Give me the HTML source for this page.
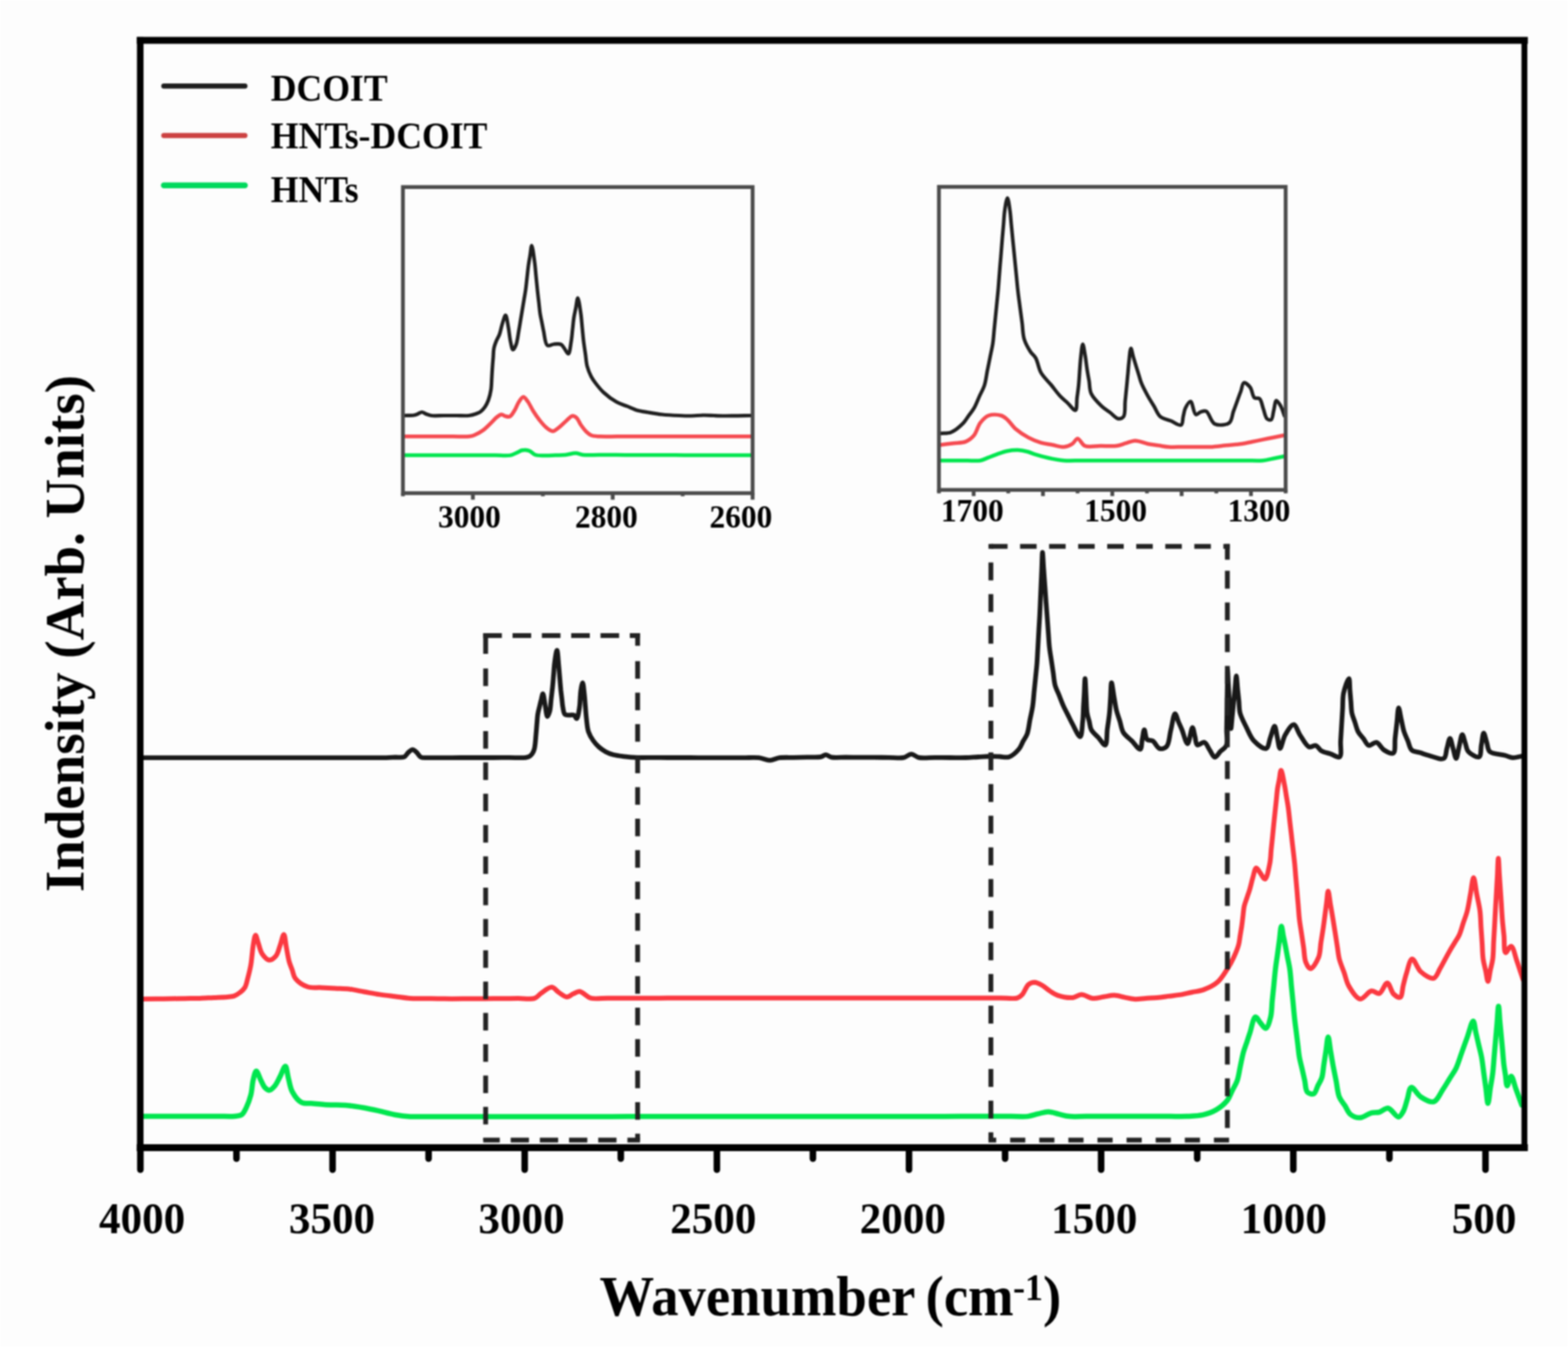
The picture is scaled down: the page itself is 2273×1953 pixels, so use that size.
<!DOCTYPE html>
<html><head><meta charset="utf-8"><title>FTIR spectra</title>
<style>
html,body{margin:0;padding:0;background:#fff;}
body{width:2273px;height:1953px;overflow:hidden;}
svg{display:block;filter:blur(0.8px);}
</style></head>
<body>
<svg width="2273" height="1953" viewBox="0 0 2273 1953">
<rect width="2273" height="1953" fill="#fdfdfd"/>
<g transform="translate(0,0.9)">
<path d="M205.0,1617.7 C212.5,1617.7 220.0,1617.7 227.5,1617.7 C235.0,1617.7 242.5,1617.6 250.0,1617.6 C257.5,1617.6 265.0,1617.6 272.5,1617.6 C280.0,1617.6 287.5,1617.6 295.0,1617.6 C302.5,1617.6 310.0,1617.5 317.5,1617.5 C325.0,1617.5 334.0,1618.1 340.0,1617.5 C344.2,1617.1 347.6,1617.2 350.4,1615.3 C353.4,1613.2 355.0,1609.1 357.0,1605.0 C359.5,1599.8 362.0,1592.9 363.7,1586.4 C365.4,1579.6 365.5,1571.2 367.0,1565.0 C368.2,1560.1 369.7,1552.1 371.5,1552.0 C373.3,1551.9 375.8,1560.9 378.0,1565.0 C380.0,1568.8 381.6,1573.5 384.0,1576.0 C385.9,1577.9 388.2,1579.9 390.4,1579.8 C392.9,1579.7 395.7,1576.7 398.0,1574.0 C401.0,1570.6 403.4,1564.8 406.0,1560.0 C408.6,1555.1 411.7,1544.8 413.7,1545.0 C415.7,1545.2 416.4,1556.1 418.0,1562.0 C419.7,1568.4 420.5,1576.1 423.7,1582.0 C426.9,1587.9 431.7,1594.8 437.0,1597.5 C441.8,1600.0 448.0,1598.5 453.5,1599.0 C459.0,1599.5 464.4,1600.1 470.0,1600.5 C475.8,1600.9 481.9,1601.0 487.9,1601.2 C493.9,1601.5 499.5,1601.4 505.8,1602.0 C512.8,1602.7 520.6,1604.0 528.0,1605.3 C535.4,1606.6 542.6,1608.3 550.0,1610.0 C557.4,1611.7 564.9,1614.0 572.4,1615.3 C579.8,1616.6 587.0,1617.5 594.6,1618.0 C602.5,1618.5 610.9,1618.0 619.0,1618.0 C627.2,1618.0 635.3,1618.0 643.5,1618.0 C651.6,1618.0 659.7,1618.0 667.9,1618.0 C676.0,1618.0 684.2,1618.0 692.3,1618.0 C700.4,1618.0 708.6,1618.0 716.7,1618.0 C724.9,1618.0 733.0,1618.0 741.1,1618.0 C749.3,1618.0 757.4,1618.0 765.6,1618.0 C773.7,1618.0 781.9,1618.0 790.0,1618.0 C798.1,1618.0 806.1,1618.0 814.1,1618.0 C822.2,1618.0 830.2,1618.0 838.3,1618.0 C846.3,1618.0 854.4,1618.0 862.4,1618.0 C870.5,1618.0 878.5,1618.0 886.6,1618.0 C894.6,1618.0 902.6,1618.0 910.7,1617.9 C918.7,1617.9 926.8,1617.9 934.8,1617.9 C942.9,1617.9 950.9,1617.9 959.0,1617.9 C967.0,1617.9 975.1,1617.9 983.1,1617.9 C991.1,1617.9 999.2,1617.9 1007.2,1617.9 C1015.3,1617.9 1023.3,1617.9 1031.4,1617.9 C1039.4,1617.9 1047.5,1617.9 1055.5,1617.9 C1063.6,1617.9 1071.6,1617.9 1079.7,1617.9 C1087.7,1617.9 1095.7,1617.9 1103.8,1617.9 C1111.8,1617.9 1119.9,1617.9 1127.9,1617.9 C1136.0,1617.9 1144.0,1617.8 1152.1,1617.8 C1160.1,1617.8 1168.2,1617.8 1176.2,1617.8 C1184.3,1617.8 1192.3,1617.8 1200.3,1617.8 C1208.4,1617.8 1216.4,1617.8 1224.5,1617.8 C1232.5,1617.8 1240.6,1617.8 1248.6,1617.8 C1256.7,1617.8 1264.7,1617.8 1272.8,1617.8 C1280.8,1617.8 1288.9,1617.8 1296.9,1617.8 C1304.9,1617.8 1313.0,1617.8 1321.0,1617.8 C1329.1,1617.8 1337.1,1617.8 1345.2,1617.8 C1353.2,1617.8 1361.3,1617.8 1369.3,1617.8 C1377.4,1617.7 1385.4,1617.7 1393.4,1617.7 C1401.5,1617.7 1409.5,1617.7 1417.6,1617.7 C1425.6,1617.7 1433.7,1617.7 1441.7,1617.7 C1449.8,1617.7 1457.8,1617.7 1465.9,1617.7 C1473.9,1617.7 1483.0,1618.6 1490.0,1617.7 C1495.6,1617.0 1500.0,1615.1 1505.0,1614.0 C1509.9,1612.9 1514.8,1610.9 1519.8,1611.0 C1524.8,1611.1 1529.9,1613.4 1535.0,1614.5 C1540.0,1615.6 1544.4,1617.1 1550.0,1617.7 C1557.1,1618.4 1566.2,1617.7 1574.3,1617.7 C1582.4,1617.7 1590.5,1617.7 1598.6,1617.7 C1606.7,1617.7 1614.8,1617.7 1622.9,1617.7 C1631.0,1617.7 1639.0,1617.7 1647.1,1617.7 C1655.2,1617.7 1663.3,1617.7 1671.4,1617.7 C1679.5,1617.7 1687.6,1617.7 1695.7,1617.7 C1703.8,1617.7 1711.9,1618.1 1720.0,1617.7 C1728.0,1617.3 1736.6,1617.2 1744.0,1615.5 C1750.9,1613.9 1757.3,1611.6 1763.2,1608.1 C1769.2,1604.5 1775.4,1599.3 1779.4,1594.2 C1782.8,1589.9 1784.0,1584.9 1786.3,1580.3 C1788.7,1575.7 1791.4,1571.6 1793.3,1566.4 C1795.5,1560.3 1796.4,1552.5 1797.9,1545.6 C1799.4,1538.6 1800.8,1530.9 1802.5,1524.7 C1803.9,1519.6 1805.6,1515.4 1807.2,1510.8 C1808.7,1506.2 1810.0,1502.1 1811.8,1496.9 C1814.1,1490.1 1816.7,1474.2 1819.9,1473.6 C1822.0,1473.2 1824.5,1479.3 1827.0,1482.0 C1829.5,1484.8 1832.7,1490.4 1835.0,1490.0 C1837.9,1489.4 1840.4,1479.7 1841.9,1473.7 C1843.7,1466.8 1843.5,1458.3 1844.2,1450.5 C1845.0,1442.8 1845.8,1435.1 1846.6,1427.4 C1847.3,1419.6 1848.0,1411.7 1848.9,1404.2 C1849.7,1397.1 1850.8,1390.4 1851.8,1383.5 C1852.7,1376.6 1853.7,1369.6 1854.6,1362.7 C1855.6,1355.8 1856.4,1342.0 1857.5,1342.0 C1858.4,1342.0 1859.3,1351.0 1860.2,1355.5 C1861.2,1360.0 1862.1,1364.2 1863.0,1369.0 C1864.1,1374.5 1865.2,1380.7 1866.3,1386.6 C1867.5,1392.5 1868.8,1397.9 1869.7,1404.2 C1870.8,1411.6 1871.3,1420.2 1872.0,1428.2 C1872.8,1436.2 1873.6,1444.1 1874.4,1452.1 C1875.1,1460.1 1875.9,1468.6 1876.7,1476.1 C1877.4,1482.7 1878.2,1488.5 1879.0,1494.6 C1879.8,1500.8 1880.5,1507.0 1881.3,1513.2 C1882.1,1519.3 1882.5,1525.7 1883.6,1531.7 C1884.6,1537.5 1886.2,1543.0 1887.5,1548.7 C1888.8,1554.3 1890.0,1560.0 1891.3,1565.6 C1892.6,1571.3 1892.3,1579.6 1895.2,1582.6 C1897.4,1584.8 1902.1,1586.1 1904.5,1585.0 C1907.3,1583.7 1908.4,1577.3 1910.3,1573.4 C1912.2,1569.5 1914.7,1566.3 1916.1,1561.8 C1917.9,1556.2 1918.1,1548.6 1919.2,1542.0 C1920.2,1535.4 1921.2,1528.9 1922.2,1522.3 C1923.3,1515.7 1924.2,1502.5 1925.3,1502.5 C1926.4,1502.5 1927.6,1516.1 1928.8,1522.8 C1930.0,1529.6 1931.0,1536.2 1932.3,1543.2 C1933.7,1550.7 1935.4,1558.7 1936.9,1566.4 C1938.4,1574.1 1938.9,1583.2 1941.5,1589.6 C1943.6,1594.7 1946.9,1598.1 1949.7,1602.3 C1952.4,1606.5 1954.1,1612.1 1957.8,1615.0 C1961.5,1617.9 1966.9,1619.9 1971.7,1619.7 C1976.9,1619.5 1982.9,1614.0 1987.9,1612.7 C1992.0,1611.6 1995.6,1612.6 1999.5,1611.6 C2003.7,1610.5 2008.0,1605.2 2012.2,1605.8 C2017.2,1606.5 2023.4,1618.8 2027.3,1618.5 C2030.2,1618.3 2032.3,1613.8 2034.2,1610.4 C2036.7,1605.9 2038.1,1598.8 2040.0,1593.1 C2041.9,1587.3 2042.6,1576.4 2045.8,1575.7 C2049.1,1574.9 2054.3,1586.1 2059.7,1589.6 C2065.1,1593.1 2072.9,1598.0 2078.2,1596.5 C2083.9,1594.8 2088.0,1583.9 2092.1,1578.0 C2095.6,1572.8 2098.3,1568.0 2101.4,1563.0 C2104.5,1557.9 2107.9,1553.6 2110.7,1547.9 C2113.9,1541.2 2116.2,1532.7 2119.0,1525.1 C2121.7,1517.5 2124.5,1509.9 2127.2,1502.3 C2130.0,1494.7 2133.4,1479.4 2135.5,1479.5 C2137.3,1479.6 2138.2,1491.1 2139.6,1496.9 C2140.9,1502.7 2142.3,1508.5 2143.6,1514.3 C2145.0,1520.1 2146.5,1525.5 2147.7,1531.7 C2149.0,1538.7 2149.8,1546.6 2150.8,1554.1 C2151.8,1561.5 2152.9,1569.0 2153.9,1576.4 C2154.9,1583.9 2155.9,1598.8 2157.0,1598.8 C2158.1,1598.8 2159.3,1584.1 2160.4,1576.8 C2161.6,1569.5 2163.0,1562.3 2163.9,1554.8 C2164.9,1546.9 2165.3,1538.7 2166.0,1530.6 C2166.7,1522.5 2167.4,1514.5 2168.1,1506.4 C2168.8,1498.3 2169.5,1490.3 2170.2,1482.2 C2170.9,1474.1 2171.6,1458.0 2172.3,1458.0 C2173.0,1458.0 2173.6,1472.2 2174.2,1479.3 C2174.9,1486.4 2175.5,1493.5 2176.2,1500.6 C2176.8,1507.7 2177.5,1514.8 2178.2,1521.9 C2178.8,1529.0 2179.3,1536.7 2180.1,1543.2 C2180.8,1548.7 2181.7,1553.3 2182.4,1558.3 C2183.2,1563.3 2183.4,1573.2 2184.8,1573.4 C2186.2,1573.6 2188.6,1559.5 2190.6,1559.5 C2192.9,1559.5 2195.1,1571.5 2197.5,1578.0 C2200.2,1585.3 2203.2,1593.5 2206.0,1601.2" fill="none" stroke="#00e64e" stroke-width="7.5" stroke-linejoin="round" stroke-linecap="round"/>
<path d="M205.0,1447.7 C212.1,1447.6 219.2,1447.5 226.2,1447.4 C233.3,1447.3 240.4,1447.2 247.5,1447.1 C254.6,1447.0 261.7,1446.9 268.8,1446.8 C275.8,1446.7 283.0,1446.7 290.0,1446.5 C296.8,1446.3 303.3,1445.8 310.0,1445.5 C316.7,1445.2 324.6,1445.0 330.0,1444.5 C333.7,1444.2 336.4,1444.2 339.3,1443.2 C342.4,1442.1 345.4,1440.1 348.0,1438.0 C350.6,1436.0 353.1,1434.0 354.9,1431.0 C357.0,1427.5 357.7,1422.8 359.0,1418.0 C360.6,1412.0 362.6,1403.8 363.7,1397.7 C364.6,1392.7 364.8,1388.5 365.4,1383.8 C365.9,1379.2 366.2,1374.7 367.0,1370.0 C367.8,1365.1 369.1,1355.1 370.4,1355.0 C371.5,1354.9 372.7,1361.2 374.0,1365.0 C375.8,1369.9 376.9,1377.5 380.0,1382.0 C382.7,1385.9 386.9,1390.7 390.4,1391.0 C393.6,1391.2 397.5,1388.0 400.0,1385.0 C403.0,1381.4 404.1,1375.1 406.0,1370.0 C407.9,1364.8 410.0,1353.9 411.5,1354.0 C413.0,1354.1 413.8,1365.7 415.0,1372.0 C416.3,1378.8 417.5,1387.2 419.2,1393.3 C420.5,1398.0 422.2,1401.4 423.6,1405.5 C425.1,1409.6 425.3,1414.0 428.1,1417.7 C431.8,1422.4 439.5,1427.7 445.9,1429.9 C452.1,1432.0 459.2,1430.6 465.9,1431.0 C472.5,1431.4 479.2,1431.7 485.8,1432.1 C492.5,1432.5 499.0,1432.4 505.8,1433.2 C513.0,1434.0 520.6,1435.8 528.0,1437.1 C535.4,1438.4 542.8,1439.9 550.2,1441.0 C557.6,1442.1 565.0,1442.9 572.4,1443.8 C579.8,1444.7 587.4,1446.1 594.6,1446.6 C601.5,1447.1 608.0,1446.8 614.7,1446.8 C621.4,1446.9 628.2,1447.0 634.9,1447.1 C641.6,1447.1 648.0,1447.3 655.0,1447.3 C662.6,1447.3 671.0,1447.2 679.0,1447.1 C687.0,1447.1 695.0,1447.0 703.0,1447.0 C711.0,1446.9 719.0,1446.9 727.0,1446.8 C735.0,1446.8 743.0,1446.7 751.0,1446.7 C759.0,1446.6 769.0,1448.6 775.0,1446.5 C779.3,1445.0 781.0,1441.5 784.7,1439.0 C789.1,1436.1 795.4,1430.1 799.9,1430.4 C803.7,1430.6 806.4,1435.7 810.0,1438.0 C813.7,1440.4 817.9,1444.4 821.6,1444.5 C824.9,1444.6 827.9,1441.4 831.0,1440.0 C834.0,1438.7 837.1,1436.3 840.0,1436.5 C842.8,1436.7 845.3,1439.4 848.0,1441.0 C850.8,1442.7 852.6,1445.2 856.3,1446.3 C862.2,1448.0 872.8,1446.3 881.0,1446.3 C889.3,1446.3 897.5,1446.3 905.8,1446.3 C914.0,1446.3 922.3,1446.3 930.5,1446.3 C938.8,1446.3 947.0,1446.3 955.3,1446.3 C963.5,1446.2 971.8,1446.2 980.0,1446.2 C988.3,1446.2 996.5,1446.2 1004.8,1446.2 C1013.0,1446.2 1021.3,1446.2 1029.5,1446.2 C1037.8,1446.2 1046.0,1446.2 1054.3,1446.2 C1062.5,1446.2 1070.8,1446.2 1079.0,1446.2 C1087.3,1446.2 1095.5,1446.2 1103.8,1446.2 C1112.0,1446.2 1120.3,1446.2 1128.5,1446.2 C1136.8,1446.2 1145.0,1446.2 1153.3,1446.2 C1161.5,1446.2 1169.8,1446.1 1178.0,1446.1 C1186.3,1446.1 1194.5,1446.1 1202.8,1446.1 C1211.0,1446.1 1219.3,1446.1 1227.5,1446.1 C1235.8,1446.1 1244.0,1446.1 1252.3,1446.1 C1260.5,1446.1 1268.8,1446.1 1277.0,1446.1 C1285.3,1446.1 1293.5,1446.1 1301.8,1446.1 C1310.0,1446.1 1318.3,1446.1 1326.5,1446.1 C1334.8,1446.1 1343.0,1446.1 1351.3,1446.1 C1359.5,1446.1 1367.8,1446.1 1376.0,1446.0 C1384.3,1446.0 1392.5,1446.0 1400.8,1446.0 C1409.0,1446.0 1417.3,1446.0 1425.5,1446.0 C1433.8,1446.0 1442.0,1446.0 1450.3,1446.0 C1458.5,1446.0 1469.5,1447.8 1475.0,1446.0 C1478.3,1445.0 1479.8,1443.4 1482.0,1441.0 C1485.1,1437.6 1487.4,1429.5 1490.9,1426.6 C1493.5,1424.4 1496.7,1423.3 1499.8,1423.3 C1503.3,1423.4 1507.3,1425.8 1510.9,1427.8 C1514.7,1430.0 1518.2,1433.6 1522.0,1436.0 C1525.6,1438.3 1528.6,1440.7 1533.1,1442.2 C1539.1,1444.2 1549.1,1446.1 1555.3,1445.5 C1560.0,1445.0 1563.1,1441.2 1567.5,1441.1 C1572.6,1441.0 1578.7,1446.1 1584.2,1446.6 C1589.4,1447.1 1594.6,1445.1 1599.8,1444.4 C1604.9,1443.7 1610.2,1442.1 1615.3,1442.2 C1620.2,1442.3 1624.9,1444.0 1629.7,1445.0 C1634.5,1445.9 1639.1,1447.4 1644.1,1447.7 C1649.4,1448.0 1655.2,1447.0 1660.8,1446.6 C1666.3,1446.2 1671.9,1446.0 1677.4,1445.5 C1682.9,1445.0 1688.3,1444.2 1693.7,1443.5 C1699.1,1442.8 1704.5,1442.4 1710.0,1441.5 C1715.8,1440.5 1721.7,1439.0 1727.5,1437.8 C1733.3,1436.5 1739.1,1436.2 1745.0,1434.0 C1751.7,1431.5 1759.6,1427.8 1765.3,1422.8 C1771.1,1417.7 1775.5,1409.7 1779.5,1403.5 C1782.9,1398.2 1785.4,1393.5 1788.0,1388.0 C1790.8,1382.1 1793.9,1374.9 1795.5,1369.0 C1796.8,1364.2 1797.0,1360.0 1797.8,1355.5 C1798.5,1351.0 1799.3,1346.6 1800.0,1342.0 C1800.7,1337.3 1801.2,1332.3 1801.8,1327.5 C1802.4,1322.7 1802.6,1317.6 1803.6,1313.0 C1804.6,1308.6 1806.3,1304.7 1807.7,1300.5 C1809.1,1296.3 1810.5,1292.4 1811.8,1288.0 C1813.3,1283.0 1814.4,1277.2 1816.0,1272.0 C1817.5,1267.0 1819.0,1257.9 1821.1,1257.5 C1822.8,1257.2 1825.0,1262.4 1827.0,1265.0 C1829.2,1267.8 1831.8,1274.1 1833.8,1273.7 C1836.7,1273.2 1839.3,1258.0 1840.8,1250.6 C1842.1,1243.9 1842.1,1237.7 1842.7,1231.3 C1843.4,1224.9 1844.0,1218.4 1844.7,1212.0 C1845.3,1205.6 1846.0,1198.9 1846.6,1192.7 C1847.2,1186.9 1847.8,1181.4 1848.4,1175.8 C1849.0,1170.2 1849.6,1164.5 1850.2,1158.9 C1850.8,1153.3 1851.2,1147.2 1852.0,1142.0 C1852.7,1137.4 1853.7,1133.3 1854.5,1129.0 C1855.3,1124.7 1856.0,1116.0 1857.0,1116.0 C1858.3,1116.0 1860.7,1130.4 1862.0,1137.0 C1863.2,1142.7 1863.8,1147.8 1864.7,1153.2 C1865.6,1158.7 1866.6,1163.8 1867.4,1169.5 C1868.3,1175.9 1869.0,1183.0 1869.7,1189.8 C1870.5,1196.5 1871.3,1203.3 1872.1,1210.0 C1872.8,1216.8 1873.6,1223.6 1874.4,1230.3 C1875.2,1237.1 1876.0,1243.8 1876.7,1250.6 C1877.4,1257.4 1877.8,1264.1 1878.4,1270.9 C1879.0,1277.6 1879.6,1284.4 1880.2,1291.2 C1880.7,1297.9 1881.3,1304.7 1881.9,1311.4 C1882.5,1318.2 1882.8,1324.9 1883.6,1331.7 C1884.4,1338.6 1885.7,1345.6 1886.7,1352.5 C1887.7,1359.5 1888.8,1366.4 1889.8,1373.4 C1890.8,1380.3 1890.7,1388.8 1892.9,1394.2 C1894.5,1398.2 1897.2,1403.5 1899.8,1403.5 C1903.2,1403.5 1908.9,1393.4 1911.4,1387.3 C1914.1,1380.8 1913.7,1372.6 1914.9,1365.2 C1916.1,1357.9 1917.4,1350.1 1918.4,1343.2 C1919.3,1337.1 1919.9,1331.6 1920.7,1325.8 C1921.5,1320.0 1922.2,1314.2 1923.0,1308.4 C1923.8,1302.6 1924.4,1291.0 1925.3,1291.0 C1926.3,1291.0 1927.6,1304.6 1928.8,1311.3 C1930.0,1318.1 1931.2,1325.0 1932.3,1331.7 C1933.4,1338.2 1934.3,1344.6 1935.4,1351.0 C1936.4,1357.4 1937.4,1363.9 1938.4,1370.3 C1939.5,1376.7 1939.9,1383.2 1941.5,1389.6 C1943.2,1396.2 1946.1,1402.7 1948.5,1409.3 C1950.8,1415.9 1951.8,1422.9 1955.4,1429.0 C1959.3,1435.7 1966.0,1446.8 1971.7,1447.5 C1976.9,1448.1 1982.7,1436.8 1987.9,1435.9 C1991.9,1435.2 1996.0,1440.5 1999.5,1439.4 C2003.9,1438.0 2007.5,1424.1 2011.0,1424.3 C2014.5,1424.5 2016.6,1437.0 2020.3,1440.5 C2023.1,1443.1 2027.3,1446.2 2029.6,1445.2 C2032.6,1443.9 2032.7,1433.6 2034.2,1427.8 C2035.7,1422.0 2036.8,1416.4 2038.8,1410.4 C2041.0,1403.7 2043.5,1390.0 2047.0,1389.6 C2050.5,1389.2 2054.4,1403.4 2059.7,1408.1 C2064.8,1412.6 2073.5,1418.6 2078.2,1417.4 C2082.5,1416.3 2084.7,1408.1 2087.5,1403.5 C2090.1,1399.2 2092.1,1395.0 2094.4,1390.8 C2096.8,1386.5 2099.0,1382.1 2101.4,1378.0 C2103.7,1374.0 2106.0,1370.3 2108.4,1366.4 C2110.7,1362.5 2113.3,1359.2 2115.3,1354.8 C2117.6,1349.7 2119.2,1343.2 2121.1,1337.4 C2123.0,1331.7 2125.3,1326.4 2126.9,1320.1 C2128.8,1312.7 2130.0,1303.9 2131.5,1295.8 C2133.0,1287.7 2134.6,1271.5 2136.1,1271.5 C2137.6,1271.5 2139.2,1287.7 2140.8,1295.8 C2142.3,1303.9 2144.4,1312.1 2145.4,1320.1 C2146.4,1327.9 2146.4,1335.5 2146.9,1343.3 C2147.4,1351.0 2148.0,1358.7 2148.5,1366.4 C2149.0,1374.2 2149.0,1382.6 2150.0,1389.6 C2150.8,1395.5 2152.3,1400.4 2153.5,1405.8 C2154.7,1411.2 2155.8,1422.0 2157.0,1422.0 C2158.2,1422.0 2159.3,1411.2 2160.4,1405.8 C2161.6,1400.4 2163.1,1395.6 2163.9,1389.6 C2164.9,1382.3 2164.8,1373.4 2165.2,1365.2 C2165.7,1357.1 2166.2,1349.0 2166.6,1340.9 C2167.0,1332.8 2167.5,1324.7 2167.9,1316.5 C2168.4,1308.4 2168.9,1300.3 2169.3,1292.2 C2169.8,1284.1 2170.2,1276.0 2170.7,1267.8 C2171.1,1259.7 2171.5,1243.5 2172.0,1243.5 C2172.5,1243.5 2173.0,1258.2 2173.4,1265.5 C2173.9,1272.9 2174.4,1280.2 2174.9,1287.6 C2175.4,1295.0 2175.9,1302.3 2176.4,1309.7 C2176.8,1317.0 2177.2,1324.2 2177.8,1331.7 C2178.4,1339.6 2179.4,1347.9 2180.2,1356.0 C2180.9,1364.1 2180.0,1379.5 2182.5,1380.3 C2184.3,1380.9 2188.2,1370.6 2190.6,1371.0 C2193.8,1371.6 2196.4,1385.6 2198.7,1391.9 C2200.5,1397.0 2201.8,1401.2 2203.3,1405.8 C2204.9,1410.4 2206.4,1415.1 2208.0,1419.7" fill="none" stroke="#fb3840" stroke-width="7" stroke-linejoin="round" stroke-linecap="round"/>
<path d="M205.0,1097.7 C212.9,1097.7 220.8,1097.7 228.7,1097.7 C236.6,1097.7 244.4,1097.7 252.3,1097.7 C260.2,1097.7 268.1,1097.7 276.0,1097.7 C283.9,1097.7 291.8,1097.7 299.7,1097.7 C307.6,1097.7 315.4,1097.7 323.3,1097.7 C331.2,1097.7 339.1,1097.7 347.0,1097.7 C354.9,1097.7 362.8,1097.7 370.7,1097.7 C378.6,1097.7 386.4,1097.7 394.3,1097.7 C402.2,1097.7 410.1,1097.7 418.0,1097.7 C425.9,1097.7 433.8,1097.7 441.7,1097.7 C449.6,1097.7 457.4,1097.7 465.3,1097.7 C473.2,1097.7 481.1,1097.7 489.0,1097.7 C496.9,1097.7 504.8,1097.7 512.7,1097.7 C520.6,1097.7 528.4,1097.7 536.3,1097.7 C544.2,1097.7 553.3,1097.9 560.0,1097.7 C565.0,1097.6 568.7,1097.3 573.0,1097.1 C577.3,1096.9 582.7,1098.0 586.0,1096.5 C588.7,1095.2 589.9,1091.8 592.0,1090.0 C593.9,1088.4 596.0,1086.0 598.0,1086.0 C600.0,1086.0 602.1,1088.3 604.0,1090.0 C606.1,1091.9 607.4,1095.5 610.0,1096.8 C612.7,1098.2 616.0,1097.5 620.0,1097.7 C626.2,1098.0 635.8,1097.7 643.7,1097.7 C651.6,1097.7 659.4,1097.6 667.3,1097.6 C675.2,1097.6 683.1,1097.6 691.0,1097.6 C698.9,1097.6 706.8,1097.6 714.7,1097.6 C722.6,1097.6 730.4,1097.5 738.3,1097.5 C746.2,1097.5 757.1,1098.2 762.0,1097.5 C764.3,1097.2 765.5,1096.9 767.0,1096.0 C768.7,1095.1 770.3,1093.7 771.5,1092.0 C772.9,1090.1 773.8,1088.0 774.6,1085.0 C776.0,1079.9 776.4,1070.4 777.0,1064.0 C777.5,1058.7 777.8,1054.3 778.2,1049.5 C778.7,1044.7 778.8,1039.7 779.5,1035.0 C780.2,1030.5 781.6,1025.9 782.5,1022.0 C783.3,1018.7 783.9,1015.9 784.7,1013.0 C785.4,1010.2 786.2,1005.0 787.0,1005.0 C788.0,1005.0 789.0,1014.8 790.0,1020.0 C791.1,1025.7 792.1,1037.8 793.6,1038.0 C794.6,1038.1 796.1,1033.3 797.0,1030.0 C798.2,1025.4 798.3,1018.3 799.0,1012.5 C799.7,1006.7 800.4,1000.8 801.0,995.0 C801.6,989.2 802.0,983.3 802.5,977.5 C803.0,971.7 803.2,965.9 804.0,960.0 C804.8,954.0 806.4,942.0 807.4,942.0 C808.5,942.0 809.3,957.9 810.0,965.0 C810.6,971.2 811.0,976.7 811.5,982.5 C812.0,988.3 812.5,994.7 813.0,1000.0 C813.5,1004.5 814.0,1008.3 814.5,1012.5 C815.0,1016.7 815.2,1021.1 816.0,1025.0 C816.7,1028.6 817.0,1033.3 819.0,1035.0 C820.7,1036.4 823.8,1035.8 826.0,1036.0 C828.1,1036.1 830.3,1035.2 832.0,1036.0 C833.7,1036.8 834.9,1041.2 836.0,1041.0 C837.8,1040.6 839.2,1030.0 840.0,1025.0 C840.7,1020.6 840.7,1016.7 841.0,1012.5 C841.3,1008.3 841.4,1004.0 842.0,1000.0 C842.6,996.2 843.8,989.0 844.6,989.0 C845.5,989.0 846.4,999.5 847.0,1005.0 C847.7,1010.7 848.0,1016.7 848.5,1022.5 C849.0,1028.3 849.3,1034.0 850.0,1040.0 C850.8,1046.5 851.1,1054.2 853.0,1060.0 C854.7,1065.0 857.3,1069.2 860.0,1073.0 C862.4,1076.4 865.0,1079.3 868.0,1082.0 C871.0,1084.7 874.5,1087.1 878.0,1089.0 C881.5,1090.9 884.9,1092.3 889.0,1093.4 C893.8,1094.7 899.4,1095.3 905.0,1096.0 C911.0,1096.7 917.4,1097.2 924.0,1097.5 C931.1,1097.8 938.7,1097.5 946.0,1097.5 C953.3,1097.5 960.7,1097.6 968.0,1097.6 C975.3,1097.6 982.7,1097.6 990.0,1097.6 C997.3,1097.6 1004.7,1097.6 1012.0,1097.7 C1019.3,1097.7 1026.7,1097.7 1034.0,1097.7 C1041.3,1097.7 1048.7,1097.7 1056.0,1097.7 C1063.3,1097.7 1070.7,1097.8 1078.0,1097.8 C1085.3,1097.8 1093.3,1097.0 1100.0,1097.8 C1105.8,1098.5 1110.9,1101.6 1116.0,1101.5 C1120.8,1101.4 1124.9,1098.5 1130.0,1097.8 C1136.0,1097.0 1143.3,1097.5 1150.0,1097.4 C1156.7,1097.2 1163.3,1097.1 1170.0,1096.9 C1176.7,1096.8 1185.1,1097.6 1190.0,1096.5 C1193.0,1095.8 1194.6,1093.5 1197.0,1093.5 C1199.6,1093.5 1201.6,1096.3 1205.0,1097.0 C1210.3,1098.1 1219.0,1097.1 1226.0,1097.1 C1233.0,1097.1 1240.0,1097.2 1247.0,1097.2 C1254.0,1097.2 1261.0,1097.3 1268.0,1097.3 C1275.0,1097.3 1282.0,1097.4 1289.0,1097.4 C1296.0,1097.4 1304.2,1098.7 1310.0,1097.5 C1314.4,1096.6 1317.3,1092.5 1321.0,1092.5 C1324.7,1092.5 1327.6,1096.5 1332.0,1097.5 C1338.1,1098.8 1347.1,1097.5 1354.7,1097.5 C1362.2,1097.5 1369.8,1097.6 1377.3,1097.6 C1384.9,1097.6 1392.9,1097.8 1400.0,1097.6 C1406.3,1097.4 1412.0,1096.9 1418.0,1096.6 C1424.0,1096.3 1430.4,1095.7 1436.0,1095.6 C1440.8,1095.6 1444.9,1095.9 1449.3,1096.1 C1453.8,1096.3 1458.4,1098.0 1462.7,1096.6 C1467.6,1095.0 1473.3,1089.6 1476.8,1085.5 C1479.7,1082.1 1480.9,1078.1 1482.9,1074.3 C1484.9,1070.6 1487.4,1067.6 1489.0,1063.2 C1491.0,1057.6 1491.7,1049.7 1493.0,1043.0 C1494.3,1036.3 1496.0,1029.6 1497.0,1022.8 C1498.0,1016.1 1498.4,1009.3 1499.0,1002.6 C1499.7,995.8 1500.4,989.1 1501.1,982.3 C1501.7,975.6 1502.5,969.1 1503.1,962.1 C1503.7,954.5 1504.0,946.4 1504.5,938.5 C1504.9,930.6 1505.4,922.8 1505.8,914.9 C1506.3,907.0 1506.8,899.1 1507.2,891.3 C1507.6,883.6 1507.9,876.1 1508.2,868.5 C1508.5,860.9 1508.9,853.3 1509.2,845.6 C1509.5,838.0 1509.9,830.4 1510.2,822.8 C1510.5,815.2 1510.8,800.0 1511.2,800.0 C1511.7,800.0 1512.3,815.8 1512.9,823.7 C1513.5,831.6 1514.0,839.5 1514.6,847.4 C1515.2,855.3 1515.7,863.3 1516.3,871.1 C1516.9,878.6 1517.4,885.9 1518.0,893.3 C1518.5,900.7 1519.1,908.2 1519.6,915.6 C1520.2,923.0 1520.5,930.8 1521.3,937.8 C1522.0,944.2 1523.1,949.9 1524.0,956.0 C1524.9,962.1 1525.8,968.1 1526.7,974.2 C1527.6,980.3 1527.9,986.7 1529.4,992.4 C1530.9,997.8 1533.5,1002.5 1535.5,1007.6 C1537.5,1012.7 1539.5,1018.1 1541.6,1022.8 C1543.5,1027.1 1545.6,1030.9 1547.7,1034.9 C1549.7,1038.9 1551.2,1042.5 1553.7,1047.0 C1557.0,1052.9 1563.2,1067.8 1565.8,1067.3 C1568.4,1066.8 1568.7,1052.3 1569.5,1045.0 C1570.3,1038.0 1570.3,1031.2 1570.6,1024.3 C1571.0,1017.4 1571.4,1010.6 1571.8,1003.7 C1572.1,996.8 1572.5,983.0 1572.9,983.0 C1573.4,983.0 1573.9,999.6 1574.4,1008.0 C1574.9,1016.3 1574.9,1026.1 1575.9,1032.9 C1576.6,1037.7 1577.9,1041.0 1579.0,1045.1 C1580.0,1049.1 1580.0,1053.5 1582.0,1057.2 C1584.2,1061.3 1588.7,1064.6 1592.1,1068.3 C1595.5,1072.0 1600.0,1080.1 1602.2,1079.4 C1605.0,1078.5 1604.2,1063.9 1605.2,1056.2 C1606.3,1048.4 1607.5,1040.6 1608.3,1032.9 C1609.0,1025.5 1609.3,1018.3 1609.8,1011.0 C1610.3,1003.6 1610.4,989.0 1611.3,989.0 C1612.1,989.0 1613.7,1002.3 1614.8,1008.9 C1616.0,1015.5 1616.9,1022.6 1618.4,1028.8 C1619.8,1034.5 1621.8,1039.6 1623.5,1045.0 C1625.1,1050.4 1625.6,1056.5 1628.5,1061.2 C1631.4,1065.9 1636.6,1069.3 1640.7,1073.3 C1644.7,1077.4 1650.3,1086.2 1652.8,1085.5 C1655.1,1084.8 1654.8,1076.1 1655.8,1071.3 C1656.8,1066.6 1657.6,1057.2 1658.8,1057.2 C1660.0,1057.2 1660.3,1068.8 1662.9,1071.3 C1664.9,1073.2 1668.4,1071.7 1671.0,1073.3 C1674.5,1075.4 1677.4,1083.5 1681.1,1084.5 C1684.2,1085.4 1688.6,1084.1 1691.2,1081.4 C1695.1,1077.3 1695.2,1065.6 1697.2,1057.7 C1699.3,1049.8 1701.1,1034.2 1703.3,1034.0 C1704.9,1033.9 1706.7,1041.7 1708.3,1045.6 C1710.0,1049.5 1711.6,1052.8 1713.4,1057.2 C1715.8,1063.0 1719.0,1077.5 1721.5,1077.4 C1724.1,1077.3 1726.7,1054.0 1728.6,1054.0 C1730.0,1054.0 1731.0,1062.5 1732.2,1066.7 C1733.3,1070.9 1733.2,1078.2 1735.7,1079.4 C1738.0,1080.5 1742.9,1074.5 1745.8,1075.4 C1749.0,1076.3 1750.9,1082.6 1753.4,1086.2 C1755.9,1089.8 1758.3,1096.8 1761.0,1097.0 C1763.5,1097.2 1766.2,1091.6 1768.9,1088.8 C1771.8,1085.9 1776.1,1084.0 1777.8,1079.9 C1780.1,1074.5 1778.0,1065.2 1778.1,1057.9 C1778.3,1050.6 1778.4,1043.3 1778.5,1035.9 C1778.6,1028.6 1778.7,1021.3 1778.8,1014.0 C1778.9,1006.6 1779.0,999.3 1779.2,992.0 C1779.3,984.7 1779.2,970.0 1779.5,970.0 C1779.8,970.0 1780.3,984.2 1780.7,991.4 C1781.1,998.5 1781.5,1005.6 1782.0,1012.8 C1782.4,1019.9 1782.8,1027.0 1783.2,1034.1 C1783.6,1041.2 1783.8,1055.5 1784.4,1055.5 C1784.9,1055.5 1785.7,1042.8 1786.4,1036.4 C1787.0,1030.0 1787.7,1023.6 1788.3,1017.2 C1789.0,1010.9 1789.6,1004.5 1790.2,998.1 C1790.9,991.8 1791.6,979.0 1792.2,979.0 C1792.8,979.0 1793.4,991.1 1794.0,997.1 C1794.6,1003.1 1795.3,1009.2 1795.9,1015.2 C1796.5,1021.2 1796.1,1027.2 1797.7,1033.3 C1799.5,1039.9 1803.3,1046.7 1806.6,1053.3 C1810.0,1060.0 1812.7,1068.0 1817.7,1073.2 C1822.5,1078.2 1831.5,1085.7 1835.5,1084.3 C1839.1,1083.1 1839.6,1073.5 1841.6,1068.2 C1843.6,1062.8 1846.0,1051.9 1847.7,1052.0 C1849.3,1052.1 1850.3,1062.8 1851.6,1068.2 C1852.9,1073.5 1853.7,1084.2 1855.5,1084.3 C1857.5,1084.4 1859.7,1070.3 1863.2,1064.4 C1866.5,1058.8 1871.9,1049.5 1875.5,1049.8 C1878.9,1050.1 1880.9,1059.4 1884.3,1064.4 C1888.2,1070.1 1893.0,1080.3 1897.7,1082.1 C1900.9,1083.3 1904.7,1079.1 1907.6,1080.0 C1910.6,1080.9 1912.2,1085.7 1915.4,1087.7 C1919.0,1089.9 1924.3,1090.6 1928.7,1092.1 C1933.1,1093.6 1939.3,1098.3 1942.0,1096.5 C1945.4,1094.2 1942.9,1081.1 1943.4,1073.5 C1943.9,1065.8 1944.3,1058.1 1944.8,1050.5 C1945.3,1042.8 1945.7,1035.1 1946.2,1027.4 C1946.7,1019.8 1946.1,1011.8 1947.6,1004.4 C1949.1,997.0 1953.9,982.8 1955.4,983.0 C1956.7,983.2 1956.4,994.2 1956.9,999.8 C1957.4,1005.4 1957.8,1010.9 1958.3,1016.5 C1958.8,1022.1 1958.7,1028.1 1959.8,1033.3 C1960.8,1038.1 1962.8,1042.2 1964.2,1046.6 C1965.7,1051.0 1966.6,1055.9 1968.7,1059.9 C1970.7,1063.7 1973.9,1066.6 1976.5,1069.9 C1979.0,1073.2 1981.0,1079.0 1984.2,1079.9 C1987.3,1080.8 1991.8,1074.8 1995.3,1075.5 C1999.3,1076.3 2002.2,1084.0 2006.4,1086.6 C2010.4,1089.1 2017.0,1092.8 2019.8,1091.0 C2023.3,1088.8 2021.5,1076.4 2022.4,1069.2 C2023.2,1061.9 2024.1,1054.6 2024.9,1047.3 C2025.8,1040.1 2026.3,1025.6 2027.5,1025.5 C2028.5,1025.4 2030.1,1037.0 2031.4,1042.7 C2032.7,1048.4 2033.6,1054.6 2035.3,1059.9 C2036.8,1064.7 2039.0,1068.8 2040.8,1073.2 C2042.7,1077.7 2043.3,1083.7 2046.4,1086.6 C2049.3,1089.3 2054.5,1089.2 2058.6,1090.4 C2062.7,1091.7 2066.1,1093.1 2070.8,1094.3 C2077.1,1095.9 2088.7,1101.4 2093.0,1098.8 C2096.5,1096.7 2096.0,1089.1 2097.4,1084.3 C2098.9,1079.5 2100.4,1069.8 2101.9,1069.8 C2103.4,1069.8 2104.9,1079.5 2106.4,1084.3 C2107.8,1089.1 2109.4,1098.8 2110.8,1098.8 C2112.3,1098.8 2113.8,1087.3 2115.2,1081.5 C2116.7,1075.7 2118.1,1064.3 2119.7,1064.2 C2121.1,1064.1 2122.6,1072.4 2124.1,1076.5 C2125.6,1080.6 2125.6,1085.6 2128.5,1088.8 C2131.8,1092.5 2140.9,1098.1 2144.1,1096.5 C2147.3,1094.9 2146.3,1085.0 2147.4,1079.2 C2148.6,1073.5 2149.4,1062.1 2150.8,1062.0 C2152.0,1061.9 2153.7,1070.9 2155.2,1075.4 C2156.7,1079.9 2156.2,1085.7 2159.6,1088.8 C2163.9,1092.8 2175.7,1092.6 2181.8,1094.3 C2186.2,1095.5 2189.1,1097.5 2193.0,1097.7 C2197.1,1097.9 2201.7,1096.2 2206.0,1095.4" fill="none" stroke="#181818" stroke-width="6.8" stroke-linejoin="round" stroke-linecap="round"/>
</g>
<g stroke="#222222" stroke-width="7" fill="none"><line x1="700.5" y1="921.5" x2="727.5" y2="921.5"/><line x1="743.0" y1="921.5" x2="770.0" y2="921.5"/><line x1="785.5" y1="921.5" x2="812.5" y2="921.5"/><line x1="828.0" y1="921.5" x2="855.0" y2="921.5"/><line x1="870.5" y1="921.5" x2="897.5" y2="921.5"/><line x1="913.0" y1="921.5" x2="927.8" y2="921.5"/><line x1="704" y1="918.0" x2="704" y2="948"/><line x1="704" y1="969.2" x2="704" y2="994.7"/><line x1="704" y1="1014.6" x2="704" y2="1040.1"/><line x1="704" y1="1060.0" x2="704" y2="1085.5"/><line x1="704" y1="1105.4" x2="704" y2="1130.9"/><line x1="704" y1="1150.8" x2="704" y2="1176.3"/><line x1="704" y1="1196.2" x2="704" y2="1221.7"/><line x1="704" y1="1241.6" x2="704" y2="1267.1"/><line x1="704" y1="1287.0" x2="704" y2="1312.5"/><line x1="704" y1="1332.4" x2="704" y2="1357.9"/><line x1="704" y1="1377.8" x2="704" y2="1403.3"/><line x1="704" y1="1423.2" x2="704" y2="1448.7"/><line x1="704" y1="1468.6" x2="704" y2="1494.1"/><line x1="704" y1="1514.0" x2="704" y2="1539.5"/><line x1="704" y1="1559.4" x2="704" y2="1584.9"/><line x1="704" y1="1604.8" x2="704" y2="1630.3"/><line x1="704" y1="1650.2" x2="704" y2="1653.0"/><line x1="924.3" y1="918.0" x2="924.3" y2="936.3"/><line x1="924.3" y1="958.6" x2="924.3" y2="984.1"/><line x1="924.3" y1="1004.3" x2="924.3" y2="1029.8"/><line x1="924.3" y1="1049.9" x2="924.3" y2="1075.4"/><line x1="924.3" y1="1095.6" x2="924.3" y2="1121.1"/><line x1="924.3" y1="1141.3" x2="924.3" y2="1166.8"/><line x1="924.3" y1="1187.0" x2="924.3" y2="1212.5"/><line x1="924.3" y1="1232.6" x2="924.3" y2="1258.1"/><line x1="924.3" y1="1278.3" x2="924.3" y2="1303.8"/><line x1="924.3" y1="1324.0" x2="924.3" y2="1349.5"/><line x1="924.3" y1="1369.6" x2="924.3" y2="1395.1"/><line x1="924.3" y1="1415.3" x2="924.3" y2="1440.8"/><line x1="924.3" y1="1461.0" x2="924.3" y2="1486.5"/><line x1="924.3" y1="1506.6" x2="924.3" y2="1532.1"/><line x1="924.3" y1="1552.3" x2="924.3" y2="1577.8"/><line x1="924.3" y1="1598.0" x2="924.3" y2="1623.5"/><line x1="924.3" y1="1643.7" x2="924.3" y2="1653.0"/><line x1="700.5" y1="1653" x2="724.5" y2="1653"/><line x1="740.3" y1="1653" x2="766.8" y2="1653"/><line x1="782.6" y1="1653" x2="809.1" y2="1653"/><line x1="824.9" y1="1653" x2="851.4" y2="1653"/><line x1="867.2" y1="1653" x2="893.7" y2="1653"/><line x1="909.5" y1="1653" x2="927.8" y2="1653"/><line x1="1436.6" y1="792.2" x2="1460.6" y2="792.2"/><line x1="1478.7" y1="792.2" x2="1502.7" y2="792.2"/><line x1="1520.8" y1="792.2" x2="1544.8" y2="792.2"/><line x1="1562.9" y1="792.2" x2="1586.9" y2="792.2"/><line x1="1605.0" y1="792.2" x2="1629.0" y2="792.2"/><line x1="1647.1" y1="792.2" x2="1671.1" y2="792.2"/><line x1="1689.2" y1="792.2" x2="1713.2" y2="792.2"/><line x1="1731.3" y1="792.2" x2="1755.3" y2="792.2"/><line x1="1773.4" y1="792.2" x2="1782.7" y2="792.2"/><line x1="1432.9" y1="792.2" x2="1440" y2="792.2"/><line x1="1436.4" y1="815.5" x2="1436.4" y2="841.5"/><line x1="1436.4" y1="861.4" x2="1436.4" y2="887.4"/><line x1="1436.4" y1="907.3" x2="1436.4" y2="933.3"/><line x1="1436.4" y1="953.2" x2="1436.4" y2="979.2"/><line x1="1436.4" y1="999.1" x2="1436.4" y2="1025.1"/><line x1="1436.4" y1="1045.0" x2="1436.4" y2="1071.0"/><line x1="1436.4" y1="1090.9" x2="1436.4" y2="1116.9"/><line x1="1436.4" y1="1136.8" x2="1436.4" y2="1162.8"/><line x1="1436.4" y1="1182.7" x2="1436.4" y2="1208.7"/><line x1="1436.4" y1="1228.6" x2="1436.4" y2="1254.6"/><line x1="1436.4" y1="1274.5" x2="1436.4" y2="1300.5"/><line x1="1436.4" y1="1320.4" x2="1436.4" y2="1346.4"/><line x1="1436.4" y1="1366.3" x2="1436.4" y2="1392.3"/><line x1="1436.4" y1="1412.2" x2="1436.4" y2="1438.2"/><line x1="1436.4" y1="1458.1" x2="1436.4" y2="1484.1"/><line x1="1436.4" y1="1504.0" x2="1436.4" y2="1530.0"/><line x1="1436.4" y1="1549.9" x2="1436.4" y2="1575.9"/><line x1="1436.4" y1="1595.8" x2="1436.4" y2="1621.8"/><line x1="1436.4" y1="1641.7" x2="1436.4" y2="1653.0"/><line x1="1779.2" y1="788.7" x2="1779.2" y2="811.5"/><line x1="1779.2" y1="827.5" x2="1779.2" y2="853.5"/><line x1="1779.2" y1="873.5" x2="1779.2" y2="899.5"/><line x1="1779.2" y1="919.5" x2="1779.2" y2="945.5"/><line x1="1779.2" y1="965.5" x2="1779.2" y2="991.5"/><line x1="1779.2" y1="1011.5" x2="1779.2" y2="1037.5"/><line x1="1779.2" y1="1057.5" x2="1779.2" y2="1083.5"/><line x1="1779.2" y1="1103.5" x2="1779.2" y2="1129.5"/><line x1="1779.2" y1="1149.5" x2="1779.2" y2="1175.5"/><line x1="1779.2" y1="1195.5" x2="1779.2" y2="1221.5"/><line x1="1779.2" y1="1241.5" x2="1779.2" y2="1267.5"/><line x1="1779.2" y1="1287.5" x2="1779.2" y2="1313.5"/><line x1="1779.2" y1="1333.5" x2="1779.2" y2="1359.5"/><line x1="1779.2" y1="1379.5" x2="1779.2" y2="1405.5"/><line x1="1779.2" y1="1425.5" x2="1779.2" y2="1451.5"/><line x1="1779.2" y1="1471.5" x2="1779.2" y2="1497.5"/><line x1="1779.2" y1="1517.5" x2="1779.2" y2="1543.5"/><line x1="1779.2" y1="1563.5" x2="1779.2" y2="1589.5"/><line x1="1779.2" y1="1609.5" x2="1779.2" y2="1635.5"/><line x1="1432.9" y1="1653" x2="1444.1" y2="1653"/><line x1="1464.3" y1="1653" x2="1486.3" y2="1653"/><line x1="1506.5" y1="1653" x2="1528.5" y2="1653"/><line x1="1548.7" y1="1653" x2="1570.7" y2="1653"/><line x1="1590.9" y1="1653" x2="1612.9" y2="1653"/><line x1="1633.1" y1="1653" x2="1655.1" y2="1653"/><line x1="1675.3" y1="1653" x2="1697.3" y2="1653"/><line x1="1717.5" y1="1653" x2="1739.5" y2="1653"/><line x1="1759.7" y1="1653" x2="1781.7" y2="1653"/></g>
<g stroke="#000" fill="none" stroke-linecap="square"><line x1="203.3" y1="58.6" x2="2209.8" y2="58.6" stroke-width="10"/><line x1="203.3" y1="58.6" x2="203.3" y2="1664" stroke-width="9.5"/><line x1="2209.8" y1="58.6" x2="2209.8" y2="1664" stroke-width="8.5"/><line x1="203.3" y1="1664" x2="2209.8" y2="1664" stroke-width="10"/></g>
<line x1="203.5" y1="1664" x2="203.5" y2="1696" stroke="#000" stroke-width="9.5" stroke-linecap="round"/>
<line x1="342.8" y1="1664" x2="342.8" y2="1680" stroke="#000" stroke-width="9.5" stroke-linecap="round"/>
<line x1="482.1" y1="1664" x2="482.1" y2="1696" stroke="#000" stroke-width="9.5" stroke-linecap="round"/>
<line x1="621.3" y1="1664" x2="621.3" y2="1680" stroke="#000" stroke-width="9.5" stroke-linecap="round"/>
<line x1="760.6" y1="1664" x2="760.6" y2="1696" stroke="#000" stroke-width="9.5" stroke-linecap="round"/>
<line x1="899.9" y1="1664" x2="899.9" y2="1680" stroke="#000" stroke-width="9.5" stroke-linecap="round"/>
<line x1="1039.2" y1="1664" x2="1039.2" y2="1696" stroke="#000" stroke-width="9.5" stroke-linecap="round"/>
<line x1="1178.4" y1="1664" x2="1178.4" y2="1680" stroke="#000" stroke-width="9.5" stroke-linecap="round"/>
<line x1="1317.7" y1="1664" x2="1317.7" y2="1696" stroke="#000" stroke-width="9.5" stroke-linecap="round"/>
<line x1="1457.0" y1="1664" x2="1457.0" y2="1680" stroke="#000" stroke-width="9.5" stroke-linecap="round"/>
<line x1="1596.2" y1="1664" x2="1596.2" y2="1696" stroke="#000" stroke-width="9.5" stroke-linecap="round"/>
<line x1="1735.5" y1="1664" x2="1735.5" y2="1680" stroke="#000" stroke-width="9.5" stroke-linecap="round"/>
<line x1="1874.8" y1="1664" x2="1874.8" y2="1696" stroke="#000" stroke-width="9.5" stroke-linecap="round"/>
<line x1="2014.1" y1="1664" x2="2014.1" y2="1680" stroke="#000" stroke-width="9.5" stroke-linecap="round"/>
<line x1="2153.4" y1="1664" x2="2153.4" y2="1696" stroke="#000" stroke-width="9.5" stroke-linecap="round"/>
<text x="206" y="1788" font-size="62.5" font-family="'Liberation Serif', 'Times New Roman', serif" font-weight="bold" text-anchor="middle" fill="#000">4000</text>
<text x="481.2" y="1788" font-size="62.5" font-family="'Liberation Serif', 'Times New Roman', serif" font-weight="bold" text-anchor="middle" fill="#000">3500</text>
<text x="755.9" y="1788" font-size="62.5" font-family="'Liberation Serif', 'Times New Roman', serif" font-weight="bold" text-anchor="middle" fill="#000">3000</text>
<text x="1033.9" y="1788" font-size="62.5" font-family="'Liberation Serif', 'Times New Roman', serif" font-weight="bold" text-anchor="middle" fill="#000">2500</text>
<text x="1308.8" y="1788" font-size="62.5" font-family="'Liberation Serif', 'Times New Roman', serif" font-weight="bold" text-anchor="middle" fill="#000">2000</text>
<text x="1586.2" y="1788" font-size="62.5" font-family="'Liberation Serif', 'Times New Roman', serif" font-weight="bold" text-anchor="middle" fill="#000">1500</text>
<text x="1861" y="1788" font-size="62.5" font-family="'Liberation Serif', 'Times New Roman', serif" font-weight="bold" text-anchor="middle" fill="#000">1000</text>
<text x="2151.3" y="1788" font-size="62.5" font-family="'Liberation Serif', 'Times New Roman', serif" font-weight="bold" text-anchor="middle" fill="#000">500</text>
<g transform="translate(869,1907) scale(0.967,1)"><text x="0" y="0" font-size="82" font-family="'Liberation Serif', 'Times New Roman', serif" font-weight="bold" fill="#000">Wavenumber <tspan dx="-3.8">(cm</tspan><tspan font-size="54" dy="-22" dx="-1">-1</tspan><tspan dy="22">)</tspan></text></g>
<g transform="translate(120.5,1293.5) rotate(-90) scale(0.983,1)"><text x="0" y="0" font-size="81" font-family="'Liberation Serif', 'Times New Roman', serif" font-weight="bold" fill="#000">Indensity (Arb. Units)</text></g>
<line x1="237.5" y1="124.8" x2="355" y2="124.8" stroke="#1e1e1e" stroke-width="7.5" stroke-linecap="round"/>
<line x1="237.5" y1="196.4" x2="355" y2="196.4" stroke="#cc4242" stroke-width="7.5" stroke-linecap="round"/>
<line x1="237.5" y1="268.8" x2="355" y2="268.8" stroke="#00d95c" stroke-width="8.5" stroke-linecap="round"/>
<g transform="translate(392.5,145.5) scale(0.94,1)"><text x="0" y="0" font-size="55" font-family="'Liberation Serif', 'Times New Roman', serif" font-weight="bold" fill="#000">DCOIT</text></g>
<g transform="translate(392.5,214.5) scale(0.94,1)"><text x="0" y="0" font-size="55" font-family="'Liberation Serif', 'Times New Roman', serif" font-weight="bold" fill="#000">HNTs-DCOIT</text></g>
<g transform="translate(392.5,292.5) scale(0.94,1)"><text x="0" y="0" font-size="55" font-family="'Liberation Serif', 'Times New Roman', serif" font-weight="bold" fill="#000">HNTs</text></g>
<path d="M586.0,660.1 C593.3,660.1 600.7,660.1 608.0,660.1 C615.3,660.1 622.7,660.1 630.0,660.1 C637.3,660.1 644.7,660.1 652.0,660.1 C659.3,660.1 666.7,660.1 674.0,660.1 C681.3,660.1 688.7,660.1 696.0,660.1 C703.3,660.1 710.7,660.1 718.0,660.1 C725.3,660.1 734.2,661.2 740.0,660.1 C744.1,659.3 747.1,657.3 750.0,656.0 C752.3,655.0 754.0,653.6 756.0,653.0 C757.9,652.5 759.8,652.4 761.7,652.5 C763.8,652.7 765.9,653.1 768.0,654.0 C770.6,655.2 772.8,658.4 776.0,659.5 C779.9,660.9 785.3,660.4 790.0,660.5 C794.9,660.6 800.0,660.2 805.0,660.0 C810.0,659.8 815.1,660.0 820.0,659.5 C824.9,659.0 830.1,656.9 834.5,657.0 C838.3,657.1 840.7,659.0 845.0,659.5 C851.4,660.3 861.3,659.5 869.4,659.6 C877.5,659.6 885.7,659.6 893.8,659.6 C901.9,659.6 910.1,659.7 918.2,659.7 C926.3,659.7 934.5,659.7 942.6,659.7 C950.7,659.8 958.9,659.8 967.0,659.8 C975.1,659.8 983.3,659.8 991.4,659.9 C999.5,659.9 1007.7,659.9 1015.8,659.9 C1023.9,659.9 1032.1,660.0 1040.2,660.0 C1048.3,660.0 1056.5,660.0 1064.6,660.0 C1072.7,660.1 1080.9,660.1 1089.0,660.1" fill="none" stroke="#00e64e" stroke-width="5.5" stroke-linejoin="round" stroke-linecap="round"/>
<path d="M586.0,632.8 C593.8,632.8 601.7,632.8 609.5,632.8 C617.3,632.8 625.2,632.8 633.0,632.8 C640.8,632.8 648.7,632.8 656.5,632.8 C664.3,632.8 674.4,633.5 680.0,632.8 C683.2,632.4 684.7,632.1 687.4,631.0 C691.1,629.5 696.0,626.9 700.0,624.0 C704.2,620.9 708.4,616.4 712.0,613.0 C715.0,610.2 717.3,607.1 720.0,605.0 C722.2,603.3 724.5,601.2 726.8,601.0 C728.9,600.8 730.9,603.0 733.0,603.5 C735.0,604.0 737.1,604.8 739.0,604.0 C741.6,602.9 743.9,598.3 746.0,595.0 C748.3,591.4 749.7,586.4 752.0,583.0 C754.0,580.1 756.5,575.5 758.7,575.5 C760.8,575.5 762.9,579.3 765.0,582.0 C767.7,585.7 770.2,591.5 773.0,596.0 C775.8,600.5 778.8,604.9 782.0,609.0 C785.1,612.9 788.5,617.2 792.0,620.0 C794.9,622.4 798.2,625.2 801.2,625.2 C804.2,625.2 807.1,622.1 810.0,620.0 C813.4,617.5 816.6,613.9 820.0,611.0 C823.3,608.2 827.0,603.3 830.0,603.0 C832.2,602.8 834.2,604.3 836.0,606.0 C838.4,608.2 839.7,612.7 842.0,616.0 C844.4,619.4 847.2,623.3 850.0,626.0 C852.3,628.2 854.4,630.1 857.3,631.3 C860.8,632.7 865.1,632.5 870.0,632.8 C876.8,633.2 886.2,632.8 894.3,632.8 C902.4,632.8 910.6,632.8 918.7,632.8 C926.8,632.8 934.9,632.8 943.0,632.8 C951.1,632.8 959.2,632.8 967.3,632.8 C975.4,632.8 983.6,632.8 991.7,632.8 C999.8,632.8 1007.9,632.8 1016.0,632.8 C1024.1,632.8 1032.2,632.8 1040.3,632.8 C1048.4,632.8 1056.6,632.8 1064.7,632.8 C1072.8,632.8 1080.9,632.8 1089.0,632.8" fill="none" stroke="#f54a50" stroke-width="5.5" stroke-linejoin="round" stroke-linecap="round"/>
<path d="M586.0,602.5 C590.7,602.3 596.3,602.7 600.0,602.0 C602.5,601.6 604.1,600.8 606.0,600.0 C607.9,599.3 609.8,597.5 611.6,597.5 C613.4,597.5 615.0,599.2 617.0,600.0 C619.4,600.9 621.7,602.0 625.0,602.5 C629.8,603.2 637.2,602.5 643.3,602.5 C649.4,602.5 655.6,602.5 661.7,602.5 C667.8,602.5 674.8,603.1 680.0,602.5 C683.9,602.0 687.1,601.0 690.0,600.0 C692.4,599.1 694.5,598.5 696.5,597.0 C698.8,595.3 701.1,592.7 703.0,590.0 C705.0,587.1 706.6,583.8 708.0,580.0 C709.6,575.6 710.9,570.2 711.7,565.0 C712.6,559.4 712.5,553.3 712.9,547.5 C713.2,541.7 713.6,535.3 714.0,530.0 C714.3,525.5 714.7,521.7 715.0,517.5 C715.3,513.3 715.2,508.9 716.0,505.0 C716.7,501.4 718.0,498.1 719.3,494.8 C720.6,491.5 722.6,488.7 724.0,485.0 C725.6,480.6 726.5,474.8 728.0,470.0 C729.5,465.5 731.5,456.9 732.9,457.0 C734.5,457.1 735.8,468.8 737.0,475.0 C738.2,481.5 738.7,489.2 740.0,495.0 C741.0,499.5 742.0,506.8 743.5,507.0 C744.8,507.2 746.8,503.1 748.0,500.0 C750.0,495.2 750.9,486.2 752.0,480.0 C753.0,474.6 753.7,470.0 754.5,465.0 C755.3,460.0 756.2,455.0 757.0,450.0 C757.8,445.0 758.7,440.0 759.5,435.0 C760.3,430.0 761.3,425.2 762.0,420.0 C762.8,414.4 763.3,408.3 764.0,402.5 C764.7,396.7 765.2,390.6 766.0,385.0 C766.7,379.9 767.6,375.3 768.4,370.5 C769.2,365.7 769.9,356.0 770.8,356.0 C772.0,356.0 773.9,372.3 775.0,380.0 C776.0,387.0 776.3,393.3 777.0,400.0 C777.7,406.7 778.3,413.6 779.0,420.0 C779.6,426.0 780.3,431.7 781.0,437.5 C781.7,443.3 782.2,449.7 783.0,455.0 C783.7,459.5 784.7,463.3 785.5,467.5 C786.3,471.7 786.9,475.3 788.0,480.0 C789.4,486.1 790.0,498.7 793.6,500.9 C796.0,502.4 799.8,499.3 803.0,499.0 C806.3,498.7 810.7,498.1 813.3,499.4 C815.5,500.5 816.4,502.9 818.0,505.0 C819.9,507.4 822.3,513.3 823.9,513.0 C826.0,512.6 827.0,501.0 828.0,495.0 C829.0,489.2 829.3,483.3 830.0,477.5 C830.7,471.7 831.1,465.5 832.0,460.0 C832.8,455.1 833.9,450.7 834.8,446.0 C835.7,441.3 836.6,432.0 837.6,432.0 C838.9,432.0 840.9,447.6 842.0,455.0 C843.0,461.9 843.3,468.3 844.0,475.0 C844.7,481.7 845.2,488.5 846.0,495.0 C846.8,501.2 847.7,507.1 848.6,513.1 C849.5,519.1 849.7,525.6 851.2,531.2 C852.6,536.5 854.8,541.7 857.0,546.0 C858.9,549.6 860.7,552.1 863.3,555.5 C866.5,559.7 870.4,564.7 875.0,569.0 C880.3,573.9 887.6,579.4 893.7,582.8 C898.8,585.7 903.8,586.9 908.9,588.9 C913.9,590.9 918.8,593.5 924.0,595.0 C929.2,596.5 934.4,597.0 940.0,598.0 C946.3,599.1 953.0,600.3 960.0,601.0 C967.8,601.8 977.4,602.2 984.7,602.5 C990.4,602.8 994.6,603.0 1000.0,603.0 C1006.2,602.9 1013.8,602.1 1020.0,602.0 C1025.4,602.0 1030.0,602.3 1035.0,602.5 C1040.0,602.7 1044.7,602.9 1050.0,603.0 C1056.1,603.1 1063.0,602.8 1069.5,602.8 C1076.0,602.7 1082.5,602.6 1089.0,602.5" fill="none" stroke="#1e1e1e" stroke-width="5.2" stroke-linejoin="round" stroke-linecap="round"/>
<rect x="584.1" y="271.2" width="506.9" height="443.8" fill="none" stroke="#4a4a4a" stroke-width="5.5"/>
<line x1="584.1" y1="715.0" x2="584.1" y2="719.5" stroke="#4a4a4a" stroke-width="5.5"/>
<line x1="685.5" y1="715.0" x2="685.5" y2="724.5" stroke="#4a4a4a" stroke-width="5.5"/>
<line x1="786.9" y1="715.0" x2="786.9" y2="719.5" stroke="#4a4a4a" stroke-width="5.5"/>
<line x1="888.2" y1="715.0" x2="888.2" y2="724.5" stroke="#4a4a4a" stroke-width="5.5"/>
<line x1="989.6" y1="715.0" x2="989.6" y2="719.5" stroke="#4a4a4a" stroke-width="5.5"/>
<line x1="1091.0" y1="715.0" x2="1091.0" y2="724.5" stroke="#4a4a4a" stroke-width="5.5"/>
<text x="680.5" y="764.5" font-size="45.5" font-family="'Liberation Serif', 'Times New Roman', serif" font-weight="bold" text-anchor="middle" fill="#000">3000</text>
<text x="879.1" y="764.5" font-size="45.5" font-family="'Liberation Serif', 'Times New Roman', serif" font-weight="bold" text-anchor="middle" fill="#000">2800</text>
<text x="1074" y="764.5" font-size="45.5" font-family="'Liberation Serif', 'Times New Roman', serif" font-weight="bold" text-anchor="middle" fill="#000">2600</text>
<path d="M1364.0,667.7 C1370.3,667.7 1376.7,667.7 1383.0,667.7 C1389.3,667.7 1395.7,667.7 1402.0,667.7 C1408.3,667.7 1415.5,668.7 1421.0,667.7 C1425.6,666.9 1429.1,664.7 1433.2,663.2 C1437.2,661.6 1441.0,660.1 1445.3,658.6 C1449.9,657.0 1455.0,655.0 1460.0,654.0 C1465.1,653.0 1470.5,652.4 1475.6,652.6 C1480.5,652.8 1485.7,653.9 1490.0,655.0 C1493.7,656.0 1496.0,657.4 1499.9,658.6 C1505.4,660.3 1513.1,662.5 1520.0,664.0 C1527.2,665.6 1534.7,667.1 1542.3,667.7 C1550.1,668.3 1558.3,667.7 1566.3,667.7 C1574.3,667.7 1582.3,667.7 1590.3,667.7 C1598.3,667.7 1606.3,667.7 1614.3,667.7 C1622.4,667.7 1630.4,667.7 1638.4,667.7 C1646.4,667.7 1654.4,667.7 1662.4,667.7 C1670.4,667.7 1678.4,667.7 1686.4,667.7 C1694.4,667.7 1702.4,667.7 1710.4,667.7 C1718.4,667.7 1726.4,667.7 1734.4,667.7 C1742.4,667.7 1750.4,667.7 1758.5,667.7 C1766.5,667.7 1774.5,667.7 1782.5,667.7 C1790.5,667.7 1798.5,667.7 1806.5,667.7 C1814.5,667.7 1823.5,668.3 1830.5,667.7 C1836.0,667.2 1840.0,666.0 1845.0,665.0 C1850.4,663.9 1856.3,662.7 1862.0,661.5" fill="none" stroke="#00e64e" stroke-width="5.5" stroke-linejoin="round" stroke-linecap="round"/>
<path d="M1364.0,645.0 C1370.0,644.2 1375.9,643.5 1381.9,642.7 C1387.9,641.9 1394.6,642.5 1399.8,640.4 C1404.5,638.5 1408.5,635.4 1411.9,631.3 C1415.8,626.6 1417.2,618.1 1421.0,613.1 C1424.4,608.7 1428.3,604.3 1433.1,602.5 C1438.3,600.6 1446.4,601.0 1451.3,602.5 C1455.1,603.6 1457.3,605.9 1460.4,608.6 C1464.4,612.1 1467.8,618.1 1472.6,622.2 C1477.8,626.7 1484.6,631.1 1490.8,634.4 C1496.7,637.6 1503.0,640.1 1509.0,641.9 C1514.6,643.5 1520.1,643.9 1525.7,645.0 C1531.2,646.0 1537.2,648.4 1542.3,648.0 C1546.7,647.6 1551.1,645.7 1554.5,643.5 C1557.6,641.5 1559.4,635.9 1562.1,635.9 C1565.3,635.9 1568.0,644.5 1572.7,646.5 C1578.5,648.9 1587.9,646.5 1595.5,646.5 C1603.0,646.5 1611.6,647.4 1618.2,646.5 C1623.4,645.8 1627.3,644.0 1631.8,642.7 C1636.4,641.4 1640.6,639.0 1645.5,638.9 C1651.1,638.8 1657.9,642.3 1663.7,643.5 C1669.0,644.6 1673.8,645.0 1678.8,645.8 C1683.9,646.5 1688.6,647.6 1694.0,648.0 C1700.2,648.5 1707.5,648.0 1714.2,648.0 C1721.0,648.0 1727.7,648.0 1734.5,648.0 C1741.2,648.0 1747.8,648.3 1754.7,648.0 C1762.1,647.6 1769.9,646.5 1777.5,645.8 C1785.0,645.0 1793.4,644.5 1800.2,643.5 C1805.8,642.7 1810.3,641.5 1815.3,640.5 C1820.4,639.4 1825.4,638.4 1830.5,637.4 C1835.7,636.3 1841.0,635.3 1846.2,634.2 C1851.5,633.1 1856.8,632.1 1862.0,631.0" fill="none" stroke="#f54a50" stroke-width="5.5" stroke-linejoin="round" stroke-linecap="round"/>
<path d="M1364.0,628.3 C1368.8,627.8 1373.7,628.7 1378.5,626.8 C1384.6,624.4 1392.2,617.7 1396.7,613.1 C1400.1,609.6 1401.8,606.0 1404.3,602.5 C1406.8,599.0 1409.5,596.0 1411.9,591.9 C1414.7,587.1 1417.0,580.8 1419.5,575.2 C1422.0,569.6 1425.2,564.5 1427.1,558.5 C1429.1,552.2 1429.8,545.0 1431.1,538.3 C1432.5,531.5 1433.8,524.8 1435.2,518.0 C1436.5,511.3 1438.2,504.5 1439.2,497.8 C1440.2,491.4 1440.5,485.2 1441.1,478.9 C1441.7,472.5 1442.4,466.2 1443.0,459.9 C1443.6,453.6 1444.3,447.3 1444.9,440.9 C1445.5,434.6 1446.2,428.3 1446.8,422.0 C1447.4,415.7 1447.8,409.4 1448.3,403.1 C1448.8,396.7 1449.3,390.4 1449.8,384.1 C1450.4,377.8 1450.9,371.5 1451.4,365.1 C1451.9,358.8 1452.4,352.6 1452.9,346.2 C1453.5,339.5 1454.1,332.5 1454.7,325.6 C1455.3,318.7 1455.5,311.6 1456.5,305.0 C1457.4,298.8 1459.1,287.0 1460.4,287.0 C1461.6,287.0 1463.1,298.8 1464.0,305.0 C1465.0,311.6 1465.3,318.7 1466.0,325.6 C1466.7,332.5 1467.3,339.5 1468.0,346.2 C1468.6,352.6 1469.3,358.8 1469.9,365.1 C1470.5,371.5 1471.2,377.8 1471.8,384.1 C1472.4,390.4 1473.1,396.7 1473.7,403.1 C1474.3,409.4 1474.8,415.4 1475.6,422.0 C1476.4,429.4 1477.6,437.5 1478.6,445.3 C1479.6,453.0 1480.7,460.8 1481.7,468.5 C1482.7,476.3 1482.5,484.7 1484.7,491.8 C1486.7,498.4 1490.6,505.1 1493.8,510.0 C1496.2,513.7 1499.2,515.2 1501.4,519.1 C1504.5,524.5 1505.3,533.8 1509.0,540.3 C1512.8,547.0 1519.4,552.7 1524.1,558.5 C1528.4,563.8 1532.1,569.2 1536.3,573.7 C1540.0,577.7 1543.9,580.8 1547.7,584.3 C1551.4,587.8 1556.7,595.7 1559.0,594.9 C1561.5,594.0 1560.5,582.8 1561.3,576.7 C1562.1,570.6 1563.0,564.7 1563.6,558.5 C1564.2,552.2 1564.6,545.7 1565.0,539.2 C1565.5,532.8 1565.8,526.5 1566.5,520.0 C1567.3,513.1 1568.4,499.0 1569.6,499.0 C1570.6,499.0 1572.0,509.4 1573.0,515.0 C1574.1,521.1 1574.7,528.0 1575.7,534.3 C1576.6,540.5 1577.7,546.4 1578.8,552.5 C1579.8,558.6 1579.2,565.0 1581.8,570.7 C1584.8,577.2 1591.9,584.1 1596.9,588.9 C1600.9,592.7 1605.0,595.0 1609.1,598.0 C1613.1,601.0 1617.5,606.6 1621.2,607.1 C1623.9,607.4 1627.0,606.3 1628.8,604.0 C1631.7,600.1 1630.3,588.8 1631.1,581.2 C1631.9,573.7 1632.7,565.5 1633.4,558.5 C1634.0,552.5 1634.4,547.3 1635.0,541.8 C1635.5,536.2 1635.8,530.8 1636.5,525.0 C1637.3,518.6 1638.2,505.1 1639.4,505.0 C1640.4,504.9 1641.7,513.7 1643.0,518.0 C1644.3,522.4 1645.7,526.9 1647.0,531.2 C1648.3,535.3 1649.5,539.3 1650.8,543.4 C1652.1,547.4 1652.8,551.1 1654.6,555.5 C1656.8,561.0 1660.6,568.0 1663.7,573.7 C1666.6,579.0 1669.8,583.8 1672.8,588.9 C1675.8,593.9 1677.7,600.4 1681.9,604.0 C1685.9,607.4 1692.0,608.1 1697.1,610.1 C1702.1,612.1 1709.2,617.7 1712.2,616.2 C1714.8,614.9 1714.2,608.1 1715.2,604.0 C1716.3,600.0 1716.5,595.6 1718.3,591.9 C1720.1,588.2 1723.6,581.7 1725.9,582.0 C1728.8,582.4 1730.1,599.8 1733.5,601.0 C1735.7,601.8 1738.4,597.8 1741.0,597.0 C1743.5,596.3 1746.1,595.2 1748.6,596.4 C1752.8,598.4 1755.2,611.8 1760.8,614.6 C1766.3,617.3 1777.5,616.5 1782.0,613.1 C1786.1,610.0 1786.0,602.0 1788.0,596.5 C1790.1,590.9 1792.2,584.9 1794.1,579.8 C1795.7,575.4 1797.1,571.5 1798.7,567.4 C1800.2,563.3 1800.8,555.7 1803.2,555.0 C1805.4,554.3 1809.9,558.5 1812.3,561.6 C1815.2,565.3 1815.4,574.2 1818.4,576.7 C1820.5,578.4 1824.0,576.5 1826.0,578.2 C1828.8,580.6 1829.5,587.8 1831.3,592.7 C1833.1,597.5 1834.0,604.7 1836.6,607.1 C1838.3,608.6 1841.1,609.5 1842.7,608.6 C1845.1,607.2 1845.2,599.3 1846.5,594.7 C1847.7,590.1 1848.3,581.2 1850.2,580.8 C1851.8,580.5 1854.5,585.2 1856.3,588.3 C1858.6,592.2 1860.1,598.1 1862.0,603.0" fill="none" stroke="#1e1e1e" stroke-width="5.2" stroke-linejoin="round" stroke-linecap="round"/>
<rect x="1361.1" y="270.9" width="502.6" height="439.4" fill="none" stroke="#4a4a4a" stroke-width="5.5"/>
<line x1="1361.1" y1="710.3" x2="1361.1" y2="715.3" stroke="#4a4a4a" stroke-width="5.5"/>
<line x1="1411.4" y1="710.3" x2="1411.4" y2="719.3" stroke="#4a4a4a" stroke-width="5.5"/>
<line x1="1461.6" y1="710.3" x2="1461.6" y2="715.3" stroke="#4a4a4a" stroke-width="5.5"/>
<line x1="1511.9" y1="710.3" x2="1511.9" y2="719.3" stroke="#4a4a4a" stroke-width="5.5"/>
<line x1="1562.1" y1="710.3" x2="1562.1" y2="715.3" stroke="#4a4a4a" stroke-width="5.5"/>
<line x1="1612.4" y1="710.3" x2="1612.4" y2="719.3" stroke="#4a4a4a" stroke-width="5.5"/>
<line x1="1662.7" y1="710.3" x2="1662.7" y2="715.3" stroke="#4a4a4a" stroke-width="5.5"/>
<line x1="1712.9" y1="710.3" x2="1712.9" y2="719.3" stroke="#4a4a4a" stroke-width="5.5"/>
<line x1="1763.2" y1="710.3" x2="1763.2" y2="715.3" stroke="#4a4a4a" stroke-width="5.5"/>
<line x1="1813.4" y1="710.3" x2="1813.4" y2="719.3" stroke="#4a4a4a" stroke-width="5.5"/>
<line x1="1863.7" y1="710.3" x2="1863.7" y2="715.3" stroke="#4a4a4a" stroke-width="5.5"/>
<text x="1409.5" y="756" font-size="45.5" font-family="'Liberation Serif', 'Times New Roman', serif" font-weight="bold" text-anchor="middle" fill="#000">1700</text>
<text x="1617.3" y="756" font-size="45.5" font-family="'Liberation Serif', 'Times New Roman', serif" font-weight="bold" text-anchor="middle" fill="#000">1500</text>
<text x="1825" y="756" font-size="45.5" font-family="'Liberation Serif', 'Times New Roman', serif" font-weight="bold" text-anchor="middle" fill="#000">1300</text>
</svg>
</body></html>
